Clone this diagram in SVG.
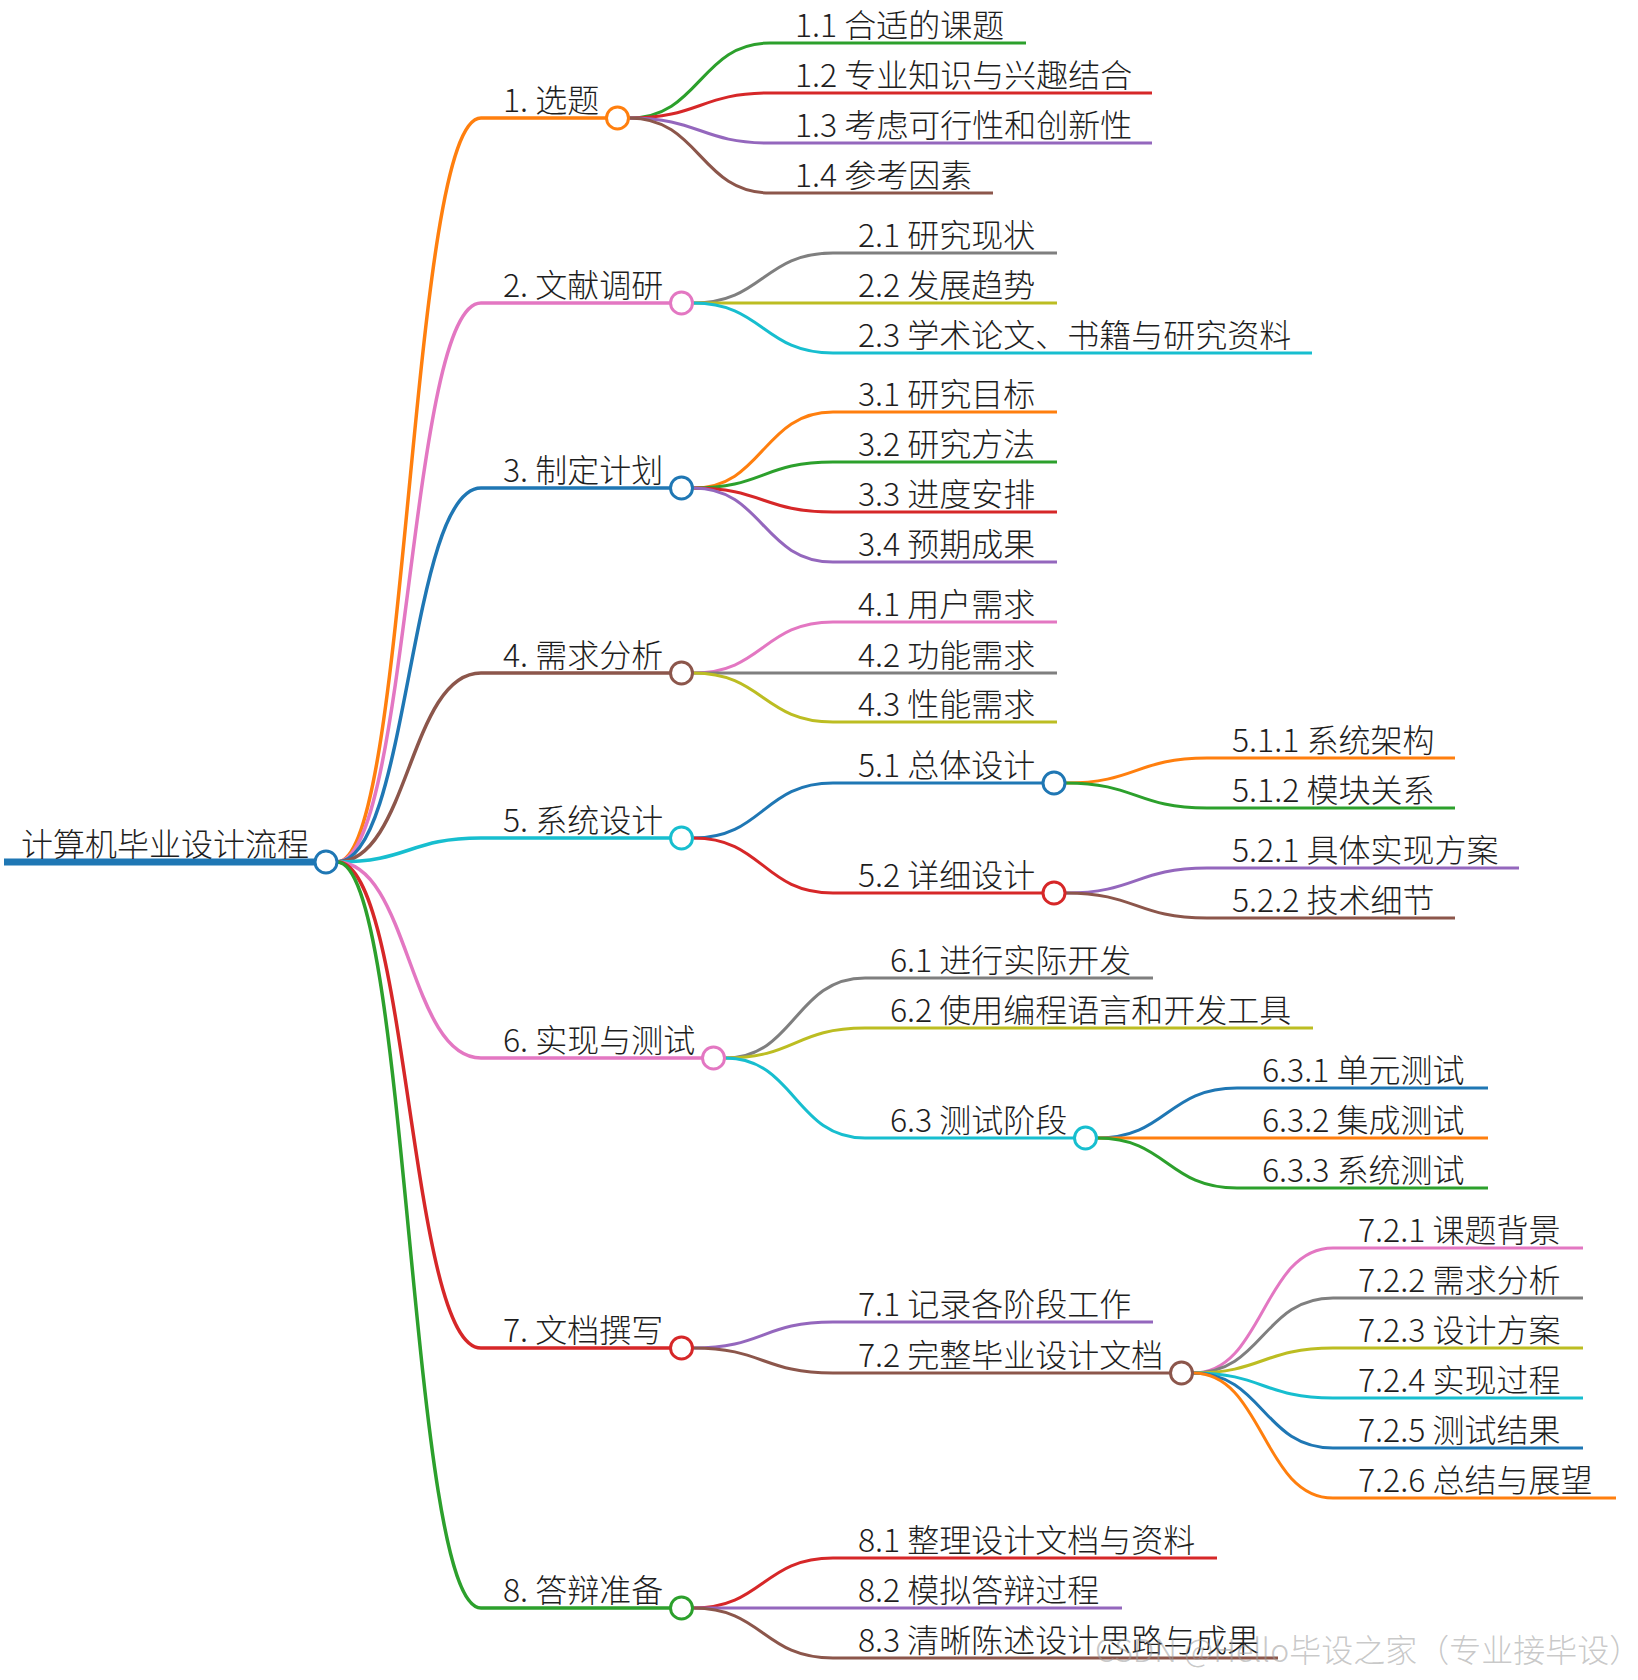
<svg xmlns="http://www.w3.org/2000/svg" width="1638" height="1680" viewBox="0 0 1638 1680">
<style>
.t{font-family:"Noto Sans CJK SC","Noto Sans",sans-serif;font-size:32px;font-weight:300;fill:#1e1e1e}
.e{fill:none;stroke-width:3}
.e1{fill:none;stroke-width:3.5}
.n{fill:#fff;stroke-width:3}
.or{stroke:#ff7f0e}.gr{stroke:#2ca02c}.rd{stroke:#d62728}.pu{stroke:#9467bd}.br{stroke:#8c564b}
.pk{stroke:#e377c2}.gy{stroke:#7f7f7f}.ol{stroke:#bcbd22}.cy{stroke:#17becf}.bl{stroke:#1f77b4}
.wm{font-family:"Noto Sans CJK SC","Noto Sans",sans-serif;font-size:32px;font-weight:300;fill:#9a9a9a;fill-opacity:0.55}
</style>
<rect width="1638" height="1680" fill="#fff"/>
<g id="connectors">
<path class="bl" d="M4,862 L315,862" stroke-width="7" fill="none"/>
<path class="e1 or" d="M337,862 C409,862 409,118 481,118 L606,118"/>
<path class="e1 pk" d="M337,862 C409,862 409,303 481,303 L670,303"/>
<path class="e1 bl" d="M337,862 C409,862 409,488 481,488 L670,488"/>
<path class="e1 br" d="M337,862 C409,862 409,673 481,673 L670,673"/>
<path class="e1 cy" d="M337,862 C409,862 409,838 481,838 L670,838"/>
<path class="e1 pk" d="M337,862 C409,862 409,1058 481,1058 L702,1058"/>
<path class="e1 rd" d="M337,862 C409,862 409,1348 481,1348 L670,1348"/>
<path class="e1 gr" d="M337,862 C409,862 409,1608 481,1608 L670,1608"/>
<path class="e gr" d="M629.5,118 C700,118 700,43 770,43 L1026,43"/>
<path class="e rd" d="M629.5,118 C700,118 700,93 770,93 L1152,93"/>
<path class="e pu" d="M629.5,118 C700,118 700,143 770,143 L1152,143"/>
<path class="e br" d="M629.5,118 C700,118 700,193 770,193 L993,193"/>
<path class="e gy" d="M693.5,303 C763,303 763,253 833,253 L1057,253"/>
<path class="e ol" d="M693.5,303 L1057,303"/>
<path class="e cy" d="M693.5,303 C763,303 763,353 833,353 L1312,353"/>
<path class="e or" d="M693.5,488 C763,488 763,412 833,412 L1057,412"/>
<path class="e gr" d="M693.5,488 C763,488 763,462 833,462 L1057,462"/>
<path class="e rd" d="M693.5,488 C763,488 763,512 833,512 L1057,512"/>
<path class="e pu" d="M693.5,488 C763,488 763,562 833,562 L1057,562"/>
<path class="e pk" d="M693.5,673 C763,673 763,622 833,622 L1057,622"/>
<path class="e gy" d="M693.5,673 L1057,673"/>
<path class="e ol" d="M693.5,673 C763,673 763,722 833,722 L1057,722"/>
<path class="e bl" d="M693.5,838 C763,838 763,783 833,783 L1042,783"/>
<path class="e rd" d="M693.5,838 C763,838 763,893 833,893 L1042,893"/>
<path class="e or" d="M1066,783 C1136,783 1136,758 1207,758 L1455,758"/>
<path class="e gr" d="M1066,783 C1136,783 1136,808 1207,808 L1455,808"/>
<path class="e pu" d="M1066,893 C1136,893 1136,868 1207,868 L1519,868"/>
<path class="e br" d="M1066,893 C1136,893 1136,918 1207,918 L1455,918"/>
<path class="e gy" d="M725.5,1058 C795,1058 795,978 865,978 L1153,978"/>
<path class="e ol" d="M725.5,1058 C795,1058 795,1028 865,1028 L1313,1028"/>
<path class="e cy" d="M725.5,1058 C795,1058 795,1138 865,1138 L1074,1138"/>
<path class="e bl" d="M1097.5,1138 C1167,1138 1167,1088 1237,1088 L1488,1088"/>
<path class="e or" d="M1097.5,1138 L1488,1138"/>
<path class="e gr" d="M1097.5,1138 C1167,1138 1167,1188 1237,1188 L1488,1188"/>
<path class="e pu" d="M693.5,1348 C763,1348 763,1322 833,1322 L1153,1322"/>
<path class="e br" d="M693.5,1348 C763,1348 763,1373 833,1373 L1170,1373"/>
<path class="e pk" d="M1193.5,1373 C1263,1373 1263,1248 1333,1248 L1583,1248"/>
<path class="e gy" d="M1193.5,1373 C1263,1373 1263,1298 1333,1298 L1583,1298"/>
<path class="e ol" d="M1193.5,1373 C1263,1373 1263,1348 1333,1348 L1583,1348"/>
<path class="e cy" d="M1193.5,1373 C1263,1373 1263,1398 1333,1398 L1583,1398"/>
<path class="e bl" d="M1193.5,1373 C1263,1373 1263,1448 1333,1448 L1583,1448"/>
<path class="e or" d="M1193.5,1373 C1263,1373 1263,1498 1333,1498 L1616,1498"/>
<path class="e rd" d="M693.5,1608 C763,1608 763,1558 833,1558 L1217,1558"/>
<path class="e pu" d="M693.5,1608 L1122,1608"/>
<path class="e br" d="M693.5,1608 C763,1608 763,1658 833,1658 L1278,1658"/>
</g>
<g id="root"><text class="t" x="21" y="856">计算机毕业设计流程</text><circle class="n bl" cx="326" cy="862" r="11"/></g>
<g id="n1"><text class="t" x="503" y="112">1. 选题</text><circle class="n or" cx="617.5" cy="118" r="11"/></g>
<g id="n1_1"><text class="t" x="795" y="37">1.1 合适的课题</text></g>
<g id="n1_2"><text class="t" x="795" y="87">1.2 专业知识与兴趣结合</text></g>
<g id="n1_3"><text class="t" x="795" y="137">1.3 考虑可行性和创新性</text></g>
<g id="n1_4"><text class="t" x="795" y="187">1.4 参考因素</text></g>
<g id="n2"><text class="t" x="503" y="297">2. 文献调研</text><circle class="n pk" cx="681.5" cy="303" r="11"/></g>
<g id="n2_1"><text class="t" x="858" y="247">2.1 研究现状</text></g>
<g id="n2_2"><text class="t" x="858" y="297">2.2 发展趋势</text></g>
<g id="n2_3"><text class="t" x="858" y="347">2.3 学术论文、书籍与研究资料</text></g>
<g id="n3"><text class="t" x="503" y="482">3. 制定计划</text><circle class="n bl" cx="681.5" cy="488" r="11"/></g>
<g id="n3_1"><text class="t" x="858" y="406">3.1 研究目标</text></g>
<g id="n3_2"><text class="t" x="858" y="456">3.2 研究方法</text></g>
<g id="n3_3"><text class="t" x="858" y="506">3.3 进度安排</text></g>
<g id="n3_4"><text class="t" x="858" y="556">3.4 预期成果</text></g>
<g id="n4"><text class="t" x="503" y="667">4. 需求分析</text><circle class="n br" cx="681.5" cy="673" r="11"/></g>
<g id="n4_1"><text class="t" x="858" y="616">4.1 用户需求</text></g>
<g id="n4_2"><text class="t" x="858" y="667">4.2 功能需求</text></g>
<g id="n4_3"><text class="t" x="858" y="716">4.3 性能需求</text></g>
<g id="n5"><text class="t" x="503" y="832">5. 系统设计</text><circle class="n cy" cx="681.5" cy="838" r="11"/></g>
<g id="n5_1"><text class="t" x="858" y="777">5.1 总体设计</text><circle class="n bl" cx="1054" cy="783" r="11"/></g>
<g id="n5_1_1"><text class="t" x="1232" y="752">5.1.1 系统架构</text></g>
<g id="n5_1_2"><text class="t" x="1232" y="802">5.1.2 模块关系</text></g>
<g id="n5_2"><text class="t" x="858" y="887">5.2 详细设计</text><circle class="n rd" cx="1054" cy="893" r="11"/></g>
<g id="n5_2_1"><text class="t" x="1232" y="862">5.2.1 具体实现方案</text></g>
<g id="n5_2_2"><text class="t" x="1232" y="912">5.2.2 技术细节</text></g>
<g id="n6"><text class="t" x="503" y="1052">6. 实现与测试</text><circle class="n pk" cx="713.5" cy="1058" r="11"/></g>
<g id="n6_1"><text class="t" x="890" y="972">6.1 进行实际开发</text></g>
<g id="n6_2"><text class="t" x="890" y="1022">6.2 使用编程语言和开发工具</text></g>
<g id="n6_3"><text class="t" x="890" y="1132">6.3 测试阶段</text><circle class="n cy" cx="1085.5" cy="1138" r="11"/></g>
<g id="n6_3_1"><text class="t" x="1262" y="1082">6.3.1 单元测试</text></g>
<g id="n6_3_2"><text class="t" x="1262" y="1132">6.3.2 集成测试</text></g>
<g id="n6_3_3"><text class="t" x="1262" y="1182">6.3.3 系统测试</text></g>
<g id="n7"><text class="t" x="503" y="1342">7. 文档撰写</text><circle class="n rd" cx="681.5" cy="1348" r="11"/></g>
<g id="n7_1"><text class="t" x="858" y="1316">7.1 记录各阶段工作</text></g>
<g id="n7_2"><text class="t" x="858" y="1367">7.2 完整毕业设计文档</text><circle class="n br" cx="1181.5" cy="1373" r="11"/></g>
<g id="n7_2_1"><text class="t" x="1358" y="1242">7.2.1 课题背景</text></g>
<g id="n7_2_2"><text class="t" x="1358" y="1292">7.2.2 需求分析</text></g>
<g id="n7_2_3"><text class="t" x="1358" y="1342">7.2.3 设计方案</text></g>
<g id="n7_2_4"><text class="t" x="1358" y="1392">7.2.4 实现过程</text></g>
<g id="n7_2_5"><text class="t" x="1358" y="1442">7.2.5 测试结果</text></g>
<g id="n7_2_6"><text class="t" x="1358" y="1492">7.2.6 总结与展望</text></g>
<g id="n8"><text class="t" x="503" y="1602">8. 答辩准备</text><circle class="n gr" cx="681.5" cy="1608" r="11"/></g>
<g id="n8_1"><text class="t" x="858" y="1552">8.1 整理设计文档与资料</text></g>
<g id="n8_2"><text class="t" x="858" y="1602">8.2 模拟答辩过程</text></g>
<g id="n8_3"><text class="t" x="858" y="1652">8.3 清晰陈述设计思路与成果</text></g>
<text class="wm" x="1095" y="1662">CSDN @Hello毕设之家（专业接毕设）</text>
</svg>
